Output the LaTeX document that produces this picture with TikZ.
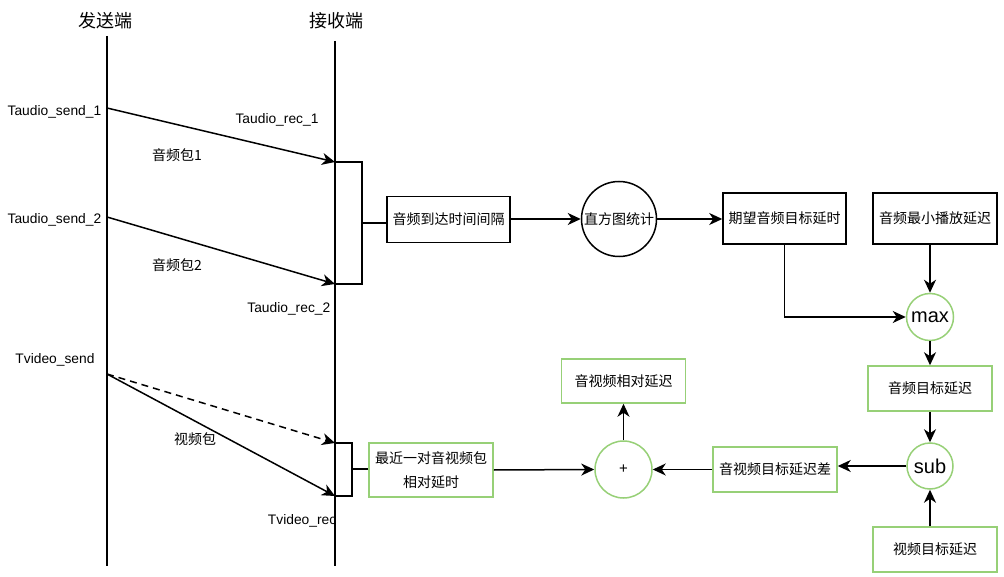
\documentclass[tikz,border=0pt]{standalone}
\usepackage{fontspec}
\setmainfont{Liberation Sans}
\newfontfamily\cjk{Noto Sans CJK SC}
\usetikzlibrary{arrows.meta}
\definecolor{leafgreen}{RGB}{151,208,119}

\begin{document}
\begin{tikzpicture}[
x=1pt, y=-1pt,
line width=1.5pt,
font=\fontsize{13.8}{16}\selectfont,
cjktext/.style={font=\cjk\fontsize{14}{24}\selectfont},
title/.style={inner sep=0pt, font=\cjk\fontsize{18}{20}\selectfont},
tag/.style={inner sep=0pt},
cjktag/.style={inner sep=0pt, cjktext},
box/.style={draw, rectangle, inner sep=0pt, align=center, minimum width=123pt, minimum height=46pt, cjktext},
greenbox/.style={box, draw=leafgreen},
ring/.style={draw, circle, inner sep=0pt},
greenring/.style={ring, draw=leafgreen, font=\fontsize{20}{22}\selectfont},
arrow/.style={-{Stealth[length=13pt, width=12pt, inset=4pt]}},
dasharrow/.style={arrow, dash pattern=on 7pt off 5pt}
]
\useasboundingbox (0,0) rectangle (1004,577);

% lifelines
\node[title] (sendtitle) at (105,21) {发送端};
\node[title] (rectitle) at (336,21) {接收端};
\node[tag, anchor=east] (vrec) at (337,521) {Tvideo\_rec};
\coordinate (stop) at (107,36);
\coordinate (sbot) at (107,566);
\coordinate (rtop) at (335,41);
\coordinate (rbot) at (335,566);
\draw (stop) -- (sbot);
\draw (rtop) -- (rbot);

% packets
\coordinate (s1) at (107,108);
\coordinate (r1) at (335,162);
\coordinate (s2) at (107,217);
\coordinate (r2) at (335,284);
\coordinate (sv) at (107,374);
\coordinate (rv1) at (335,443);
\coordinate (rv2) at (335,496);
\draw[arrow] (s1) -- (r1);
\draw[arrow] (s2) -- (r2);
\draw[dasharrow] (sv) -- (rv1);
\draw[arrow] (sv) -- (rv2);

\node[tag, anchor=east] (asend1) at (102,112) {Taudio\_send\_1};
\node[tag] (arec1) at (277,120) {Taudio\_rec\_1};
\node[cjktag] (apkt1) at (177,155) {音频包1};
\node[tag, anchor=east] (asend2) at (102,220) {Taudio\_send\_2};
\node[cjktag] (apkt2) at (177,265) {音频包2};
\node[tag, anchor=east] (arec2) at (331,309) {Taudio\_rec\_2};
\node[tag] (vsend) at (55,360) {Tvideo\_send};
\node[cjktag] (vpkt) at (195,439) {视频包};

% brackets
\coordinate (ab) at (362,223);
\coordinate (vb) at (352,469);
\draw (r1) -| (ab) |- (r2);
\draw (rv1) -| (vb) |- (rv2);

% audio chain
\node[box] (gap) at (448.5,219.5) {音频到达时间间隔};
\node[ring, minimum size=75pt, cjktext] (hist) at (619,219) {直方图统计};
\node[box, minimum height=51pt] (expect) at (784.5,218.5) {期望音频目标延时};
\node[box, minimum width=124pt, minimum height=51pt] (minplay) at (935,218.5) {音频最小播放延迟};
\node[greenring, minimum size=47pt] (max) at (930,317) {max};
\node[greenbox, minimum width=124pt, minimum height=45pt] (atarget) at (930,388.5) {音频目标延迟};
\node[greenring, minimum size=46pt] (sub) at (930,466) {sub};
\node[greenbox, minimum width=124pt, minimum height=45pt] (vtarget) at (935,549.5) {视频目标延迟};
\node[greenbox, minimum width=124pt, minimum height=45pt] (diff) at (775,469.5) {音视频目标延迟差};
\node[greenring, minimum size=57pt, font=\fontsize{15}{17}\selectfont] (plus) at (623.5,469.5) {+};
\node[greenbox, minimum width=124pt, minimum height=54pt] (pair) at (431,470) {最近一对音视频包\\相对延时};
\node[greenbox, minimum width=124pt, minimum height=44pt] (rel) at (623.5,381) {音视频相对延迟};

\draw (ab) -- (gap.west |- ab);
\draw[arrow] (gap.east |- hist.west) -- (hist.west);
\draw[arrow] (hist.east) -- (expect.west |- hist.east);
\draw[arrow] (expect.south) |- (max.west);
\draw[arrow] (max.north |- minplay.south) -- (max.north);
\draw[arrow] (max.south) -- (atarget.north);
\draw[arrow] (atarget.south) -- (sub.north);
\draw[arrow] (sub.south |- vtarget.north) -- (sub.south);
\draw[arrow] (sub.west) -- (diff.east |- sub.west);
\draw[arrow] (diff.west) -- (plus.east);
\draw (vb) -- (pair.west |- vb);
\draw[arrow] (pair.east) -- (plus.west);
\draw[arrow] (plus.north) -- (rel.south);
\end{tikzpicture}
\end{document}
